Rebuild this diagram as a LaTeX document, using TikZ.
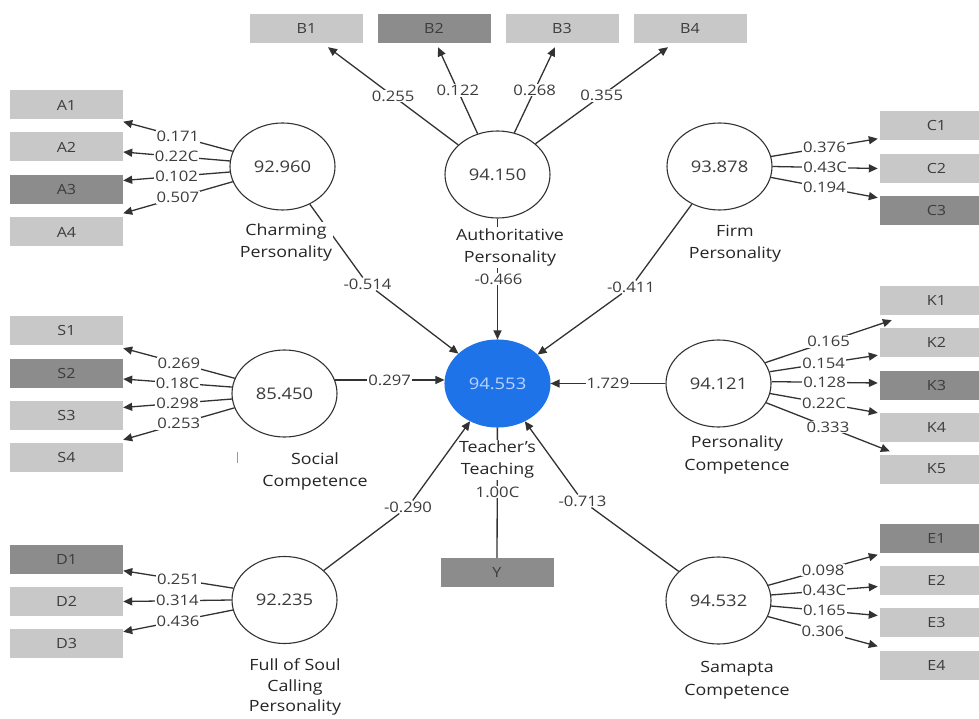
\documentclass[tikz,border=0pt]{standalone}
\usepackage{fontspec}
\setmainfont{Open Sans}[FakeStretch=1.15]
\usetikzlibrary{arrows.meta,shapes.geometric}
\definecolor{boxlight}{RGB}{200,200,200}
\definecolor{boxdark}{RGB}{140,140,140}
\definecolor{tblue}{RGB}{30,115,232}
\definecolor{tlight}{RGB}{185,212,255}
\definecolor{linec}{RGB}{50,50,50}
\definecolor{txt}{RGB}{60,60,60}
\begin{document}
\begin{tikzpicture}[x=1pt,y=-1pt,
 ind/.style={rectangle,fill=boxlight,minimum width=113pt,minimum height=29pt,inner sep=0pt,text=txt,font=\fontsize{14}{16}\selectfont},
 inddark/.style={ind,fill=boxdark},
 lv/.style={ellipse,draw=linec,line width=1.1pt,minimum width=105pt,minimum height=87pt,inner sep=0pt,fill=white,font=\fontsize{16}{18}\selectfont,text=txt},
 conn/.style={draw=linec,line width=1.3pt},
 arr/.style={conn,-{Triangle[length=9pt,width=8pt]}},
 coef/.style={fill=white,inner sep=1pt,text=txt,font=\fontsize{14.5}{16}\selectfont},
 lvname/.style={fill=white,inner sep=1pt,align=center,text=black!85,font=\fontsize{15.5}{22.5}\selectfont}
]
\useasboundingbox (0,0) rectangle (979,719);
\clip (0,0) rectangle (979,719);
% indicator boxes
\node[ind] (A1) at (66.5,105) {A1};
\node[ind] (A2) at (66.5,147) {A2};
\node[inddark] (A3) at (66.5,189.5) {A3};
\node[ind] (A4) at (66.5,232) {A4};
\node[ind] (B1) at (306.5,28.5) {B1};
\node[inddark] (B2) at (434,28.5) {B2};
\node[ind] (B3) at (562,28.5) {B3};
\node[ind] (B4) at (690,28.5) {B4};
\node[ind] (C1) at (936.5,126) {C1};
\node[ind] (C2) at (936.5,168.5) {C2};
\node[inddark] (C3) at (936.5,210.5) {C3};
\node[ind] (S1) at (66.5,330.5) {S1};
\node[inddark] (S2) at (66.5,373) {S2};
\node[ind] (S3) at (66.5,415.5) {S3};
\node[ind] (S4) at (66.5,457.5) {S4};
\node[ind] (K1) at (936.5,300.5) {K1};
\node[ind] (K2) at (936.5,342.5) {K2};
\node[inddark] (K3) at (936.5,385) {K3};
\node[ind] (K4) at (936.5,427.5) {K4};
\node[ind] (K5) at (936.5,469) {K5};
\node[inddark] (D1) at (66.5,559) {D1};
\node[ind] (D2) at (66.5,601.5) {D2};
\node[ind] (D3) at (66.5,643.5) {D3};
\node[inddark] (E1) at (936.5,538) {E1};
\node[ind] (E2) at (936.5,580.5) {E2};
\node[ind] (E3) at (936.5,622.5) {E3};
\node[ind] (E4) at (936.5,665) {E4};
\node[inddark] (Y) at (497,572.5) {Y};
% latent variables
\node[lv] (A) at (282.5,166.5) {92.960};
\node[lv] (B) at (497.5,174.5) {94.150};
\node[lv] (C) at (719.5,166.5) {93.878};
\node[lv] (S) at (284.5,393.5) {85.450};
\node[lv,fill=tblue,draw=tblue,text=tlight] (T) at (497.5,383.5) {94.553};
\node[lv] (K) at (718.5,383.5) {94.121};
\node[lv] (D) at (284.5,600) {92.235};
\node[lv] (E) at (718.5,600.5) {94.532};
% outer loadings
\draw[arr] (A.163) -- node[coef]{0.171} ([yshift=-2pt]A1.south east);
\draw[arr] (A.174) -- node[coef]{0.22C} ([yshift=-5pt]A2.east);
\draw[arr] (A.186) -- node[coef]{0.102} ([yshift=9pt]A3.east);
\draw[arr] (A.197) -- node[coef]{0.507} ([yshift=4pt]A4.north east);
\draw[arr] (B.143) -- node[coef]{0.255} ([xshift=21.5pt,yshift=-4pt]B1.south);
\draw[arr] (B.116) -- node[coef]{0.122} ([xshift=4pt,yshift=-4pt]B2.south);
\draw[arr] (B.68) -- node[coef]{0.268} ([xshift=-7pt,yshift=-4pt]B3.south);
\draw[arr] (B.39) -- node[coef]{0.355} ([xshift=-22pt,yshift=-4pt]B4.south);
\draw[arr] (C.11) -- node[coef]{0.376} ([xshift=-2pt,yshift=2pt]C1.south west);
\draw[arr] (C.0) -- node[coef]{0.43C} ([xshift=-2pt]C2.west);
\draw[arr] (C.-12) -- node[coef]{0.194} ([xshift=-2pt,yshift=-2pt]C3.north west);
\draw[arr] (K.24) -- node[coef]{0.165} ([xshift=12pt,yshift=-5pt]K1.south west);
\draw[arr] (K.13) -- node[coef]{0.154} ([xshift=-2pt,yshift=2pt]K2.south west);
\draw[arr] (K.2) -- node[coef]{0.128} ([xshift=-2pt,yshift=2pt]K3.west);
\draw[arr] (K.-11) -- node[coef]{0.22C} ([xshift=-2pt]K4.north west);
\draw[arr] (K.-22) -- node[coef]{0.333} ([xshift=10pt,yshift=3pt]K5.north west);
\draw[arr] (S.163) -- node[coef]{0.269} ([yshift=-3pt]S1.south east);
\draw[arr] (S.173) -- node[coef]{0.18C} ([yshift=-6pt]S2.east);
\draw[arr] (S.186) -- node[coef]{0.298} ([yshift=8pt]S3.east);
\draw[arr] (S.196) -- node[coef]{0.253} ([yshift=3pt]S4.north east);
\draw[arr] (D.167) -- node[coef]{0.251} ([yshift=3pt]D1.south east);
\draw[arr] (D.180) -- node[coef]{0.314} (D2.east);
\draw[arr] (D.191) -- node[coef]{0.436} ([yshift=-3pt]D3.north east);
\draw[arr] (E.17) -- node[coef]{0.098} ([xshift=-2pt,yshift=-2pt]E1.south west);
\draw[arr] (E.6) -- node[coef]{0.43C} ([xshift=-2pt,yshift=-6pt]E2.west);
\draw[arr] (E.-6) -- node[coef]{0.165} ([xshift=-2pt,yshift=7pt]E3.west);
\draw[arr] (E.-18) -- node[coef]{0.306} ([xshift=-2pt,yshift=4pt]E4.north west);
% inner paths
\node[coef] (l514) at (367.5,284) {-0.514};
\node[coef] (l411) at (631,287) {-0.411};
\node[coef] (l290) at (408,507) {-0.290};
\node[coef] (l713) at (582.5,501) {-0.713};
\draw[conn] (A) -- (l514);
\draw[arr] (l514) -- (T);
\draw[conn] (C) -- (l411);
\draw[arr] (l411) -- (T);
\draw[conn] (D) -- (l290);
\draw[arr] (l290) -- (T);
\draw[conn] (E) -- (l713);
\draw[arr] (l713) -- (T);
\draw[arr] (S.15) -- node[coef]{0.297} (T.west |- S.15);
\draw[arr] (K) -- node[coef]{1.729} (T);
\draw[arr] (B) -- (T);
\draw[conn] (T) -- (Y);
\node[coef] (l466) at (498.5,279) {-0.466};
\node[coef] (l100) at (497.5,492) {1.00C};
% names
\node[lvname] (nA) at (286,242.5) {Charming\\Personality};
\node[lvname] (nB) at (510,247.5) {Authoritative\\Personality};
\node[lvname] (nC) at (735,243.5) {Firm\\Personality};
\node[lvname] (nS) at (315,471.5) {Social\\Competence};
\node[lvname] (nT) at (497.5,459.5) {Teacher’s\\Teaching};
\node[lvname] (nK) at (737,455) {Personality\\Competence};
\node[lvname,font=\fontsize{15.5}{20.5}\selectfont] (nD) at (295,687) {Full of Soul\\Calling\\Personality};
\node[lvname] (nE) at (737,680) {Samapta\\Competence};
\draw[black!40,line width=1pt] (237,452) -- (237,463);
\end{tikzpicture}
\end{document}
